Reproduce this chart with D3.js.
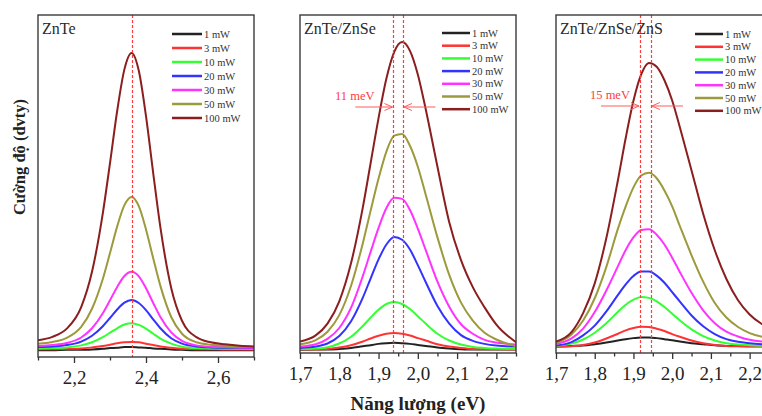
<!DOCTYPE html>
<html>
<head>
<meta charset="utf-8">
<script src="https://cdn.jsdelivr.net/npm/d3@7"></script>
<style>
  body { margin: 0; background: #fff; }
  text { font-family: "Liberation Serif", "Times New Roman", serif; }
</style>
</head>
<body>
<svg id="chart" width="762" height="416"></svg>
<script>
// series labels, same order in every panel
const powers = ["1 mW", "3 mW", "10 mW", "20 mW", "30 mW", "50 mW", "100 mW"];
const colors = ["#222222", "#ff3333", "#33ff33", "#3333ff", "#ff33ff", "#9c9a3c", "#8b1e1e"];

// ZnTe (intensity in arb. units, 0..100 = panel height)
const energyZnTe = [2.10, 2.14, 2.18, 2.22, 2.25, 2.28, 2.30, 2.32, 2.34, 2.36, 2.38, 2.40, 2.42, 2.44, 2.47, 2.50, 2.54, 2.58, 2.62, 2.66, 2.70];
const znTe = [
  [2.0, 2.0, 2.1, 2.1, 2.2, 2.4, 2.6, 2.7, 2.9, 2.9, 2.8, 2.7, 2.5, 2.4, 2.2, 2.1, 2.0, 2.0, 2.0, 2.0, 2.0],
  [2.3, 2.3, 2.4, 2.5, 2.8, 3.2, 3.6, 4.0, 4.3, 4.4, 4.3, 3.9, 3.5, 3.1, 2.7, 2.4, 2.3, 2.3, 2.2, 2.2, 2.2],
  [2.5, 2.6, 2.8, 3.4, 4.3, 5.8, 7.1, 8.4, 9.5, 9.9, 9.4, 8.3, 6.8, 5.4, 3.9, 3.0, 2.6, 2.5, 2.4, 2.4, 2.4],
  [2.9, 3.1, 3.5, 4.5, 6.2, 9.0, 11.4, 13.9, 15.9, 16.7, 15.8, 13.7, 11.0, 8.4, 5.5, 3.9, 3.1, 2.8, 2.7, 2.7, 2.6],
  [3.2, 3.5, 4.1, 5.7, 8.4, 12.8, 16.6, 20.5, 23.7, 24.9, 23.6, 20.1, 15.8, 11.7, 7.2, 4.7, 3.4, 3.0, 2.9, 2.8, 2.7],
  [3.9, 4.4, 5.6, 8.8, 14.1, 22.8, 30.4, 38.2, 44.4, 46.8, 44.1, 37.3, 28.9, 20.8, 11.7, 6.8, 4.3, 3.6, 3.3, 3.1, 2.9],
  [4.9, 5.9, 8.3, 14.6, 24.9, 42.0, 56.7, 72.0, 84.1, 88.9, 83.7, 70.4, 53.8, 37.9, 20.2, 10.6, 5.8, 4.3, 3.7, 3.3, 3.1]
];
const ticksZnTe = [2.2, 2.4, 2.6];
const minorZnTe = [2.1, 2.3, 2.5, 2.7];
const linesZnTe = [2.36];

// ZnTe/ZnSe
const energyZnSe = [1.70, 1.74, 1.77, 1.80, 1.83, 1.86, 1.88, 1.90, 1.92, 1.94, 1.96, 1.98, 2.00, 2.02, 2.05, 2.08, 2.11, 2.14, 2.17, 2.20, 2.25];
const znSe = [
  [0.9, 1.0, 1.0, 1.2, 1.5, 2.0, 2.3, 2.7, 2.9, 3.0, 2.9, 2.7, 2.4, 2.1, 1.6, 1.3, 1.1, 1.0, 1.0, 1.0, 1.0],
  [1.0, 1.0, 1.2, 1.6, 2.3, 3.4, 4.3, 5.1, 5.7, 5.9, 5.7, 5.2, 4.4, 3.7, 2.6, 1.9, 1.5, 1.2, 1.1, 1.1, 1.0],
  [1.1, 1.3, 1.7, 2.8, 4.8, 8.0, 10.5, 12.8, 14.5, 15.1, 14.5, 13.0, 10.9, 8.7, 5.7, 3.7, 2.5, 1.8, 1.5, 1.3, 1.2],
  [1.5, 1.9, 2.8, 5.0, 9.4, 16.4, 22.1, 27.7, 32.1, 34.3, 33.5, 30.6, 26.0, 21.0, 13.9, 8.7, 5.3, 3.6, 2.7, 2.2, 1.9],
  [1.9, 2.6, 4.2, 7.4, 13.4, 22.8, 30.0, 37.0, 42.9, 45.9, 45.6, 42.3, 36.8, 30.5, 21.1, 13.7, 8.5, 5.7, 3.9, 3.1, 2.5],
  [2.6, 3.8, 6.3, 11.2, 19.9, 32.5, 42.2, 51.6, 59.6, 64.3, 64.8, 61.3, 55.1, 46.9, 34.2, 23.1, 14.9, 9.6, 6.0, 4.0, 2.0],
  [3.4, 5.2, 8.7, 15.3, 26.6, 43.1, 56.3, 69.5, 81.2, 89.1, 92.0, 89.4, 82.4, 72.2, 55.1, 38.7, 27.5, 19.5, 13.5, 8.4, 3.2]
];
const ticksZnSe = [1.7, 1.8, 1.9, 2.0, 2.1, 2.2];
const minorZnSe = [1.75, 1.85, 1.95, 2.05, 2.15, 2.25];
const linesZnSe = [1.938, 1.962];

// ZnTe/ZnSe/ZnS
const energyZnS = [1.70, 1.74, 1.77, 1.80, 1.83, 1.86, 1.88, 1.90, 1.92, 1.94, 1.96, 1.98, 2.00, 2.02, 2.05, 2.08, 2.11, 2.14, 2.17, 2.20, 2.25];
const znS = [
  [2.0, 2.1, 2.2, 2.6, 3.1, 3.7, 4.1, 4.4, 4.6, 4.6, 4.4, 4.1, 3.8, 3.4, 2.9, 2.6, 2.3, 2.1, 2.1, 2.0, 2.0],
  [1.8, 2.0, 2.4, 3.1, 4.3, 5.7, 6.7, 7.4, 7.8, 7.7, 7.2, 6.5, 5.6, 4.8, 3.7, 2.9, 2.4, 2.1, 2.0, 1.9, 1.9],
  [2.1, 2.8, 4.0, 6.0, 8.8, 12.2, 14.3, 15.8, 16.6, 16.3, 15.3, 13.6, 11.6, 9.6, 7.0, 5.0, 3.7, 2.9, 2.5, 2.3, 2.1],
  [2.2, 3.2, 5.2, 8.1, 12.3, 17.2, 20.3, 22.8, 24.1, 24.1, 22.9, 20.8, 18.0, 15.2, 11.1, 7.9, 5.6, 4.1, 3.3, 2.9, 2.5],
  [2.6, 4.3, 7.2, 12.1, 18.5, 25.7, 30.5, 34.2, 36.4, 36.6, 35.0, 32.1, 28.2, 23.9, 17.8, 12.6, 8.8, 6.3, 4.9, 3.9, 3.2],
  [3.0, 5.5, 9.6, 16.2, 25.5, 36.8, 43.4, 49.0, 52.5, 53.3, 51.7, 48.1, 43.4, 37.5, 28.9, 21.1, 14.8, 10.5, 7.7, 5.9, 4.4],
  [3.4, 6.2, 11.8, 20.6, 34.0, 51.2, 63.6, 74.6, 82.4, 85.8, 84.7, 80.7, 74.7, 66.7, 54.0, 41.2, 30.4, 21.9, 15.6, 11.4, 7.3]
];
const ticksZnS = [1.7, 1.8, 1.9, 2.0, 2.1, 2.2];
const minorZnS = [1.75, 1.85, 1.95, 2.05, 2.15, 2.25];
const linesZnS = [1.917, 1.945];

// layout of the three panels
let plotTop = 15;
let panels = [
  { title: "ZnTe", energy: energyZnTe, values: znTe, ticks: ticksZnTe, minor: minorZnTe, lines: linesZnTe,
    domain: [2.1, 2.7], left: 38, right: 254, bottom: 357,
    legend: { x: 172, y: 34, dy: 14, len: 30 } },
  { title: "ZnTe/ZnSe", energy: energyZnSe, values: znSe, ticks: ticksZnSe, minor: minorZnSe, lines: linesZnSe,
    domain: [1.7, 2.25], left: 300, right: 516, bottom: 353,
    legend: { x: 442, y: 33, dy: 12.7, len: 28 },
    shift: { label: "11 meV", tx: 335, ty: 100, ay: 107, from: [1.841, 2.045] } },
  { title: "ZnTe/ZnSe/ZnS", energy: energyZnS, values: znS, ticks: ticksZnS, minor: minorZnS, lines: linesZnS,
    domain: [1.7, 2.25], left: 556, right: 769, bottom: 353,
    legend: { x: 695, y: 34, dy: 12.8, len: 28 },
    shift: { label: "15 meV", tx: 590, ty: 99, ay: 106, from: [1.816, 2.028] } }
];

let fmt = d => d3.format(".1f")(d).replace(".", ",");
let svg = d3.select("#chart");
svg.append("rect").attr("width", 762).attr("height", 416).attr("fill", "#fff");

svg.append("defs").append("marker")
  .attr("id", "arrow").attr("markerUnits", "userSpaceOnUse")
  .attr("markerWidth", 9).attr("markerHeight", 9).attr("refX", 8).attr("refY", 4.5).attr("orient", "auto")
  .append("path").attr("d", "M0,1 L8,4.5 L0,8").attr("fill", "none").attr("stroke", "#ff5a5a").attr("stroke-width", 1);

panels.forEach((p, k) => {
  let x = d3.scaleLinear().domain(p.domain).range([p.left, p.right]);
  let y = d3.scaleLinear().domain([0, 100]).range([p.bottom, plotTop]);
  let g = svg.append("g");

  svg.select("defs").append("clipPath").attr("id", "clip" + k)
    .append("rect").attr("x", p.left).attr("y", plotTop).attr("width", p.right - p.left).attr("height", p.bottom - plotTop);

  let line = d3.line().x((d, i) => x(p.energy[i])).y(d => y(d)).curve(d3.curveMonotoneX);
  g.append("g").attr("clip-path", `url(#clip${k})`)
    .selectAll("path").data(p.values).join("path")
    .attr("d", d => line(d)).attr("fill", "none")
    .attr("stroke", (d, i) => colors[i]).attr("stroke-width", 2);

  // peak position markers, snapped to the pixel grid so they stay red
  g.selectAll(".peak").data(p.lines).join("line")
    .attr("x1", d => Math.round(x(d)) + 0.5).attr("x2", d => Math.round(x(d)) + 0.5)
    .attr("y1", plotTop).attr("y2", p.bottom)
    .attr("stroke", "#ff3b3b").attr("stroke-width", 1.2).attr("stroke-dasharray", "3,2");

  g.append("rect").attr("x", p.left).attr("y", plotTop).attr("width", p.right - p.left).attr("height", p.bottom - plotTop)
    .attr("fill", "none").attr("stroke", "#3a3a3a").attr("stroke-width", 1.4);

  let axis = g.append("g").attr("transform", `translate(0,${p.bottom})`)
    .call(d3.axisBottom(x).tickValues(p.ticks).tickFormat(fmt).tickSize(6).tickSizeOuter(0).tickPadding(8));
  axis.select(".domain").remove();
  axis.selectAll("line").attr("stroke", "#333").attr("stroke-width", 1.3);
  axis.selectAll("text").attr("font-size", 19).attr("fill", "#222")
    .style("font-family", "'Liberation Serif', serif");

  let minor = g.append("g").attr("transform", `translate(0,${p.bottom})`)
    .call(d3.axisBottom(x).tickValues(p.minor).tickFormat("").tickSize(3.5).tickSizeOuter(0));
  minor.select(".domain").remove();
  minor.selectAll("line").attr("stroke", "#333").attr("stroke-width", 1.3);

  g.append("text").attr("x", p.left + 4).attr("y", 34).attr("font-size", 16).attr("fill", "#2a2a2a").text(p.title);

  let lg = g.append("g").selectAll("g").data(powers).join("g")
    .attr("transform", (d, i) => `translate(${p.legend.x},${p.legend.y + i * p.legend.dy})`);
  lg.append("line").attr("x2", p.legend.len).attr("stroke", (d, i) => colors[i]).attr("stroke-width", 2.5);
  lg.append("text").attr("x", p.legend.len + 2).attr("dy", "0.35em").attr("font-size", 10.5).attr("fill", "#333").text(d => d);

  if (p.shift) {
    g.append("text").attr("x", p.shift.tx).attr("y", p.shift.ty).attr("font-size", 12.5).attr("fill", "#ff3b3b").text(p.shift.label);
    g.append("line").attr("x1", x(p.shift.from[0])).attr("x2", x(p.lines[0]) - 1)
      .attr("y1", p.shift.ay).attr("y2", p.shift.ay)
      .attr("stroke", "#ff5a5a").attr("stroke-width", 1).attr("marker-end", "url(#arrow)");
    g.append("line").attr("x1", x(p.shift.from[1])).attr("x2", x(p.lines[1]) + 1)
      .attr("y1", p.shift.ay).attr("y2", p.shift.ay)
      .attr("stroke", "#ff5a5a").attr("stroke-width", 1).attr("marker-end", "url(#arrow)");
  }
});

svg.append("text").attr("x", 418).attr("y", 410).attr("text-anchor", "middle")
  .attr("font-size", 19).attr("font-weight", "bold").attr("fill", "#222").text("Năng lượng (eV)");
svg.append("text").attr("transform", "translate(25,157) rotate(-90)").attr("text-anchor", "middle")
  .attr("font-size", 16.5).attr("font-weight", "bold").attr("fill", "#222").text("Cường độ (dvty)");
</script>
</body>
</html>
